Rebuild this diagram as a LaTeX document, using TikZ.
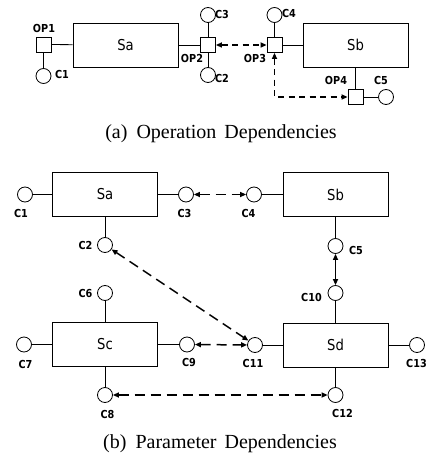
\documentclass[tikz,border=0pt]{standalone}
\usepackage{fontspec}
\setmainfont{Liberation Serif}
\newfontfamily\diafont[FakeStretch=0.88]{DejaVu Sans}
\usetikzlibrary{arrows.meta}
\tikzset{
  svc/.style={draw, line width=0.8pt, minimum width=105pt, minimum height=44pt, inner sep=0pt,
    font=\diafont\fontsize{15}{18}\selectfont},
  port/.style={draw, circle, line width=0.8pt, minimum size=15pt, inner sep=0pt},
  opbox/.style={draw, line width=0.8pt, minimum size=15pt, inner sep=0pt},
  lbl/.style={inner sep=0pt, font=\diafont\bfseries\fontsize{11}{12}\selectfont},
  link/.style={line width=0.8pt},
  tip/.style={{Triangle[length=6pt,width=5pt]}-{Triangle[length=6pt,width=5pt]}},
  dep/.style={tip, line width=1.5pt, dash pattern=on 10pt off 6pt},
  opdep/.style={tip, line width=1.5pt, dash pattern=on 6pt off 4.5pt},
  captext/.style={inner sep=0pt, font=\fontsize{20}{24}\selectfont}
}
\begin{document}
\begin{tikzpicture}[x=1pt,y=-1pt]
  \useasboundingbox (0,0) rectangle (428,457);
  % (a) Operations
  \node[svc] (tsa) at (125.5,45) {Sa};
  \node[svc] (tsb) at (355.5,45) {Sb};
  \node[opbox] (op1) at (43.5,44.5) {};
  \node[opbox] (op2) at (208,45) {};
  \node[opbox] (op3) at (274.5,45) {};
  \node[opbox] (op4) at (355.5,97) {};
  \node[port] (tc1) at (43.5,76) {};
  \node[port] (tc3) at (208,15) {};
  \node[port] (tc2) at (208,75) {};
  \node[port] (tc4) at (274.5,15) {};
  \node[port] (tc5) at (386,97) {};
  \node[lbl] at (44,28) {OP1};
  \node[lbl] at (192,58) {OP2};
  \node[lbl] at (255,58) {OP3};
  \node[lbl] at (336,80) {OP4};
  \node[lbl] at (62,74) {C1};
  \node[lbl] at (222,14) {C3};
  \node[lbl] at (222,78) {C2};
  \node[lbl] at (289,13) {C4};
  \node[lbl] at (381,80) {C5};
  \draw[link] (op1) -- (tsa);
  \draw[link] (op1) -- (tc1);
  \draw[link] (tsa) -- (op2);
  \draw[link] (op2) -- (tc3);
  \draw[link] (op2) -- (tc2);
  \draw[link] (op3) -- (tc4);
  \draw[link] (op3) -- (tsb);
  \draw[link] (tsb) -- (op4);
  \draw[link] (op4) -- (tc5);
  \draw[opdep] (op2) -- (op3);
  \draw[opdep] (op3.south) |- (op4.west);
  \node[captext] (capa) at (221,134) {(a)\hspace{0.45em}Operation\hspace{0.4em}Dependencies};
  % (b) Parameters
  \node[svc] (bsa) at (105,194.5) {Sa};
  \node[svc] (bsb) at (335.5,194.5) {Sb};
  \node[svc] (bsc) at (105,344.5) {Sc};
  \node[svc] (bsd) at (335.5,345) {Sd};
  \node[port] (c1) at (25,194.5) {};
  \node[port] (c3) at (186,194.5) {};
  \node[port] (c2) at (105,245) {};
  \node[port] (c4) at (254,194.5) {};
  \node[port] (c5) at (335.5,246) {};
  \node[port] (c6) at (105,293) {};
  \node[port] (c7) at (24,344.5) {};
  \node[port] (c9) at (187,344.5) {};
  \node[port] (c8) at (105,395) {};
  \node[port] (c10) at (335.5,293) {};
  \node[port] (c11) at (255,345) {};
  \node[port] (c13) at (417,345) {};
  \node[port] (c12) at (335.5,395) {};
  \node[lbl] at (21,213.5) {C1};
  \node[lbl] at (184.5,213.5) {C3};
  \node[lbl] at (85.5,245) {C2};
  \node[lbl] at (248.5,213.5) {C4};
  \node[lbl] at (356,250) {C5};
  \node[lbl] at (85.5,293) {C6};
  \node[lbl] at (25.5,364) {C7};
  \node[lbl] at (189,362) {C9};
  \node[lbl] at (107.5,414) {C8};
  \node[lbl] at (311.5,297) {C10};
  \node[lbl] at (253,363) {C11};
  \node[lbl] at (416.5,363) {C13};
  \node[lbl] at (342.5,413) {C12};
  \draw[link] (c1) -- (bsa);
  \draw[link] (bsa) -- (c3);
  \draw[link] (bsa) -- (c2);
  \draw[link] (c4) -- (bsb);
  \draw[link] (bsb) -- (c5);
  \draw[link] (c6) -- (bsc);
  \draw[link] (c7) -- (bsc);
  \draw[link] (bsc) -- (c9);
  \draw[link] (bsc) -- (c8);
  \draw[link] (c10) -- (bsd);
  \draw[link] (c11) -- (bsd);
  \draw[link] (bsd) -- (c13);
  \draw[link] (bsd) -- (c12);
  \draw[dep] (c3) -- (c4);
  \draw[dep] (c2) -- (c11);
  \draw[dep] (c9) -- (c11);
  \draw[dep] (c8) -- (c12);
  \draw[tip, line width=1.5pt] (c5) -- (c10);
  \node[captext] (capb) at (220,444) {(b)\hspace{0.45em}Parameter\hspace{0.4em}Dependencies};
\end{tikzpicture}
\end{document}
